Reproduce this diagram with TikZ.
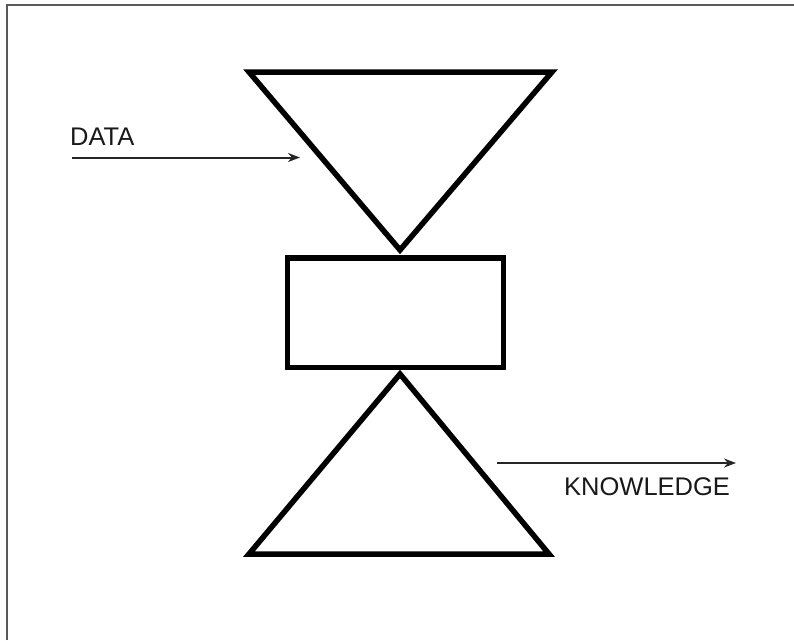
\documentclass[tikz,border=0pt]{standalone}
\usepackage{fontspec}
\setmainfont{Liberation Sans}
\usetikzlibrary{arrows.meta}

\tikzset{
  shapeline/.style={line width=5.5pt,line join=miter,black},
  flowarrow/.style={line width=2pt,black!85,-{Stealth[length=12pt,width=9pt]}},
  flowlabel/.style={font=\fontsize{25.5}{30}\selectfont,inner sep=0pt,text=black!90}
}

\begin{document}
\begin{tikzpicture}[x=1pt,y=-1pt]
\useasboundingbox (0,0) rectangle (794,640);
% frame
\draw[line width=2pt,black!65] (6.5,640) -- (6.5,4.5) -- (794,4.5);

% funnel in, box, funnel out
\draw[shapeline] (249,72) -- (552,72) -- (400,250) -- cycle;
\draw[shapeline] (287.5,258) rectangle (503.5,367.5);
\draw[shapeline] (249,554) -- (549,554) -- (400,374) -- cycle;

% data in
\node[flowlabel,anchor=base west] (data) at (70,145) {DATA};
\coordinate (datastart) at (72,157.5);
\coordinate (dataend) at (300,157.5);
\draw[flowarrow] (datastart) -- (dataend);

% knowledge out
\node[flowlabel,anchor=base west] (knowledge) at (564,495) {KNOWLEDGE};
\coordinate (knowstart) at (497,463);
\coordinate (knowend) at (736,463);
\draw[flowarrow] (knowstart) -- (knowend);
\end{tikzpicture}
\end{document}
